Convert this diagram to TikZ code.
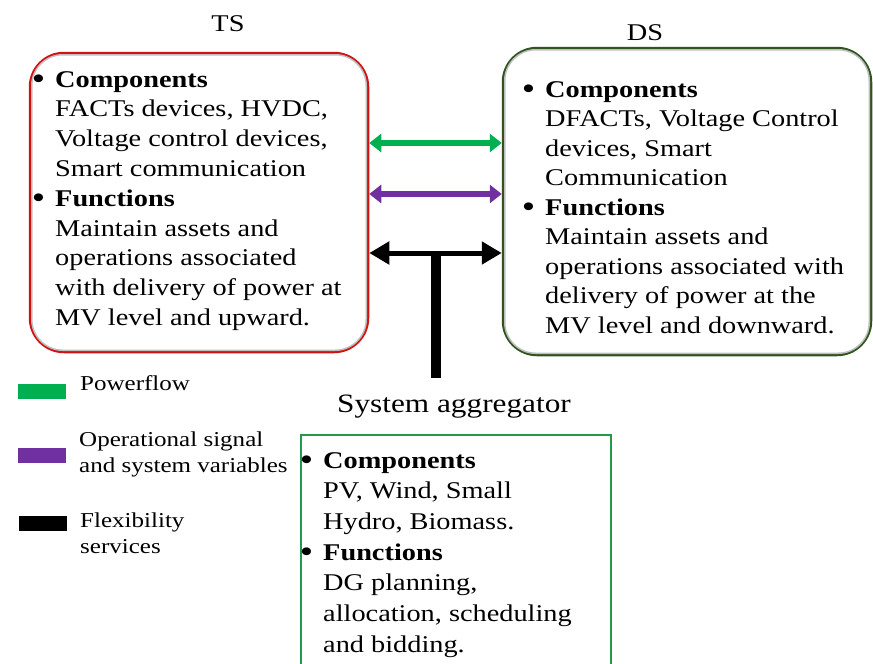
\documentclass[tikz,border=0pt]{standalone}
\usepackage{fontspec}
\setmainfont{Liberation Serif}[FakeStretch=1.18]
\usetikzlibrary{positioning, arrows.meta, calc}
\definecolor{tsred}{HTML}{D01212}
\definecolor{dsgreen}{HTML}{2F5420}
\definecolor{sagreen}{HTML}{23994A}
\definecolor{flowgreen}{HTML}{00B050}
\definecolor{sigpurple}{HTML}{7030A0}
\newcommand{\bul}{\makebox[0pt][r]{\raisebox{-2.2pt}{\scalebox{1.35}{\textbullet}}\hspace{10pt}}}

\begin{document}
\begin{tikzpicture}[x=1pt, y=-1pt,
    every node/.style={font=\fontsize{24}{29.8}\selectfont},
    sysbox/.style={draw, line width=2.5pt, rounded corners=34pt, fill=white},
    rim/.style={draw=gray!50, line width=1.5pt, rounded corners=31pt},
    boxtext/.style={align=left, inner sep=0pt, anchor=north west},
    title/.style={inner sep=0pt},
    legtext/.style={align=left, inner sep=0pt, anchor=west,
                    font=\fontsize{21.2}{26}\selectfont},
    legkey/.style={minimum width=48pt, minimum height=15pt, inner sep=0pt},
    link/.style={line width=6pt,
                 {Triangle[length=12pt,width=18pt]}-{Triangle[length=12pt,width=18pt]}},
  ]
  \clip (0,0) rectangle (873,664);

  % boxes
  \node[sysbox, draw=tsred, minimum width=338pt, minimum height=299pt] (ts) at (199,202.5) {};
  \draw[rim] ([shift={(3,3)}]ts.north west) rectangle ([shift={(-3,-3)}]ts.south east);
  \node[sysbox, draw=dsgreen, minimum width=368pt, minimum height=307pt] (ds) at (687,201.5) {};
  \draw[rim] ([shift={(3,3)}]ds.north west) rectangle ([shift={(-3,-3)}]ds.south east);
  \node[draw=sagreen, line width=2.5pt, minimum width=310pt, minimum height=255pt] (sa) at (456,562.5) {};

  % titles
  \node[title] (tstitle) at (228,24) {TS};
  \node[title] (dstitle) at (645,33) {DS};
  \node[title, font=\fontsize{26.5}{30}\selectfont] (satitle) at (454,407) {System aggregator};

  % box contents
  \node[boxtext] (tstext) at (55,71)
    {\bul\textbf{Components}\\FACTs devices, HVDC,\\Voltage control devices,\\Smart communication\\
     \bul\textbf{Functions}\\Maintain assets and\\operations associated\\with delivery of power at\\MV level and upward.};
  \node[boxtext, font=\fontsize{24}{29.5}\selectfont] (dstext) at (545,81)
    {\bul\textbf{Components}\\DFACTs, Voltage Control\\devices, Smart\\Communication\\
     \bul\textbf{Functions}\\Maintain assets and\\operations associated with\\delivery of power at the\\MV level and downward.};
  \node[boxtext, font=\fontsize{24}{30.7}\selectfont] (satext) at (323,452)
    {\bul\textbf{Components}\\PV, Wind, Small\\Hydro, Biomass.\\
     \bul\textbf{Functions}\\DG planning,\\allocation, scheduling\\and bidding.};

  % links
  \draw[link, flowgreen] (ts.east |- 0,143) -- (ds.west |- 0,143);
  \draw[link, sigpurple] (ts.east |- 0,194) -- (ds.west |- 0,194);
  \draw[line width=5pt, {Triangle[length=20pt,width=22pt]}-{Triangle[length=20pt,width=22pt]}]
    (ts.east |- 0,253) -- coordinate[pos=0.5] (tee) (ds.west |- 0,253);
  \coordinate (stemend) at ($(tee)+(0,125)$);
  \draw[line width=10pt] ([yshift=-2pt]tee) -- (stemend);

  % legend
  \node[legkey, fill=flowgreen] (kflow) at (42,391.5) {};
  \node[legtext] (lflow) at (80,383) {Powerflow};
  \node[legkey, fill=sigpurple] (ksig) at (42,455.5) {};
  \node[legtext] (lsig) at (79,454) {Operational signal\\and system variables};
  \node[legkey, fill=black] (kflex) at (42.5,523.5) {};
  \node[legtext] (lflex) at (80,533) {Flexibility\\services};
\end{tikzpicture}
\end{document}
